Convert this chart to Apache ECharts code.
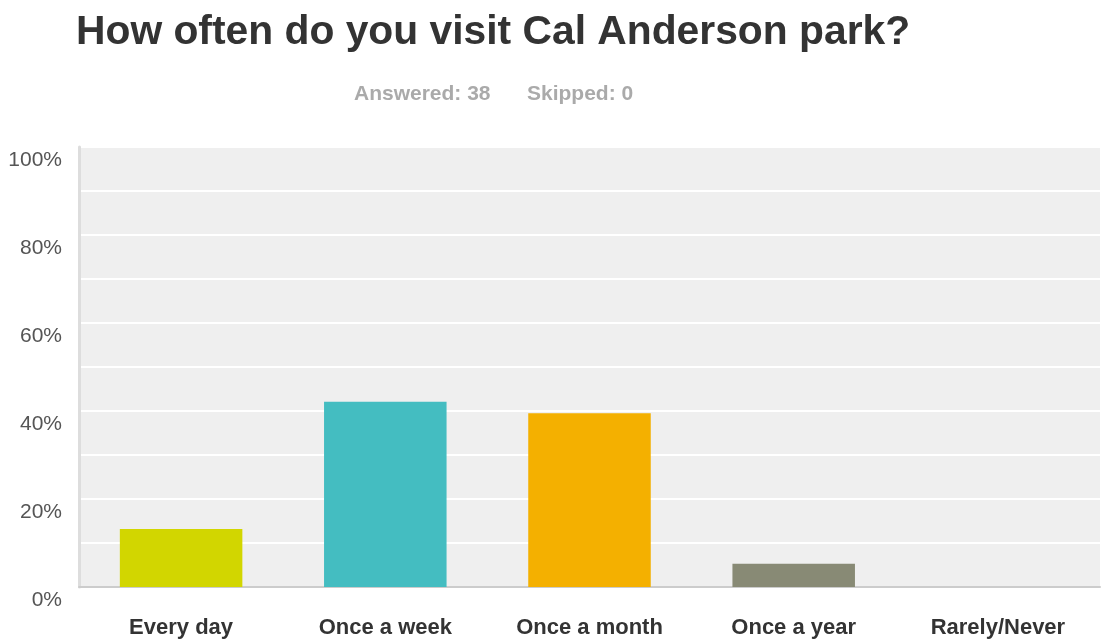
<!DOCTYPE html>
<html>
<head>
<meta charset="utf-8">
<style>
  html, body { margin: 0; padding: 0; background: #fff; }
  #chart { width: 1105px; height: 640px; }
</style>
<script src="https://cdn.jsdelivr.net/npm/echarts@6/dist/echarts.min.js"></script>
</head>
<body>
<div id="chart"></div>
<script>
// Survey responses: share of 38 respondents per answer choice
const categories = ['Every day', 'Once a week', 'Once a month', 'Once a year', 'Rarely/Never'];
const percentValues = [13.16, 42.11, 39.47, 5.26, 0];
const barColors = ['#d2d600', '#44bdc1', '#f4b000', '#888a75', '#6e6e6e'];
const yTickLabels = ['0%', '20%', '40%', '60%', '80%', '100%'];

const FONT = 'Liberation Sans, Arial, sans-serif';
const chart = echarts.init(document.getElementById('chart'), null, { renderer: 'canvas' });

chart.setOption({
  animation: false,
  backgroundColor: '#ffffff',
  title: [
    {
      text: 'How often do you visit Cal Anderson park?',
      left: 71,
      top: 7,
      textStyle: { fontFamily: FONT, fontSize: 40.8, fontWeight: 'bold', color: '#333333' }
    },
    {
      text: 'Answered: 38',
      left: 349,
      top: 79,
      textStyle: { fontFamily: FONT, fontSize: 21, fontWeight: 'bold', color: '#aaaaaa' }
    },
    {
      text: 'Skipped: 0',
      left: 522,
      top: 79,
      textStyle: { fontFamily: FONT, fontSize: 21, fontWeight: 'bold', color: '#aaaaaa' }
    }
  ],
  grid: {
    left: 79,
    right: 5,
    top: 147,
    bottom: 53,
    show: true,
    backgroundColor: '#efefef',
    borderWidth: 0
  },
  xAxis: {
    type: 'category',
    data: categories,
    axisTick: { show: false },
    axisLine: { show: true, lineStyle: { color: '#cccccc', width: 2 } },
    axisLabel: {
      margin: 30,
      fontFamily: FONT,
      fontSize: 22,
      fontWeight: 'bold',
      color: '#333333',
      interval: 0
    }
  },
  yAxis: {
    type: 'value',
    min: 0,
    max: 100,
    interval: 10,
    axisTick: { show: false },
    axisLine: { show: true, lineStyle: { color: '#dddddd', width: 3 } },
    splitLine: { show: true, lineStyle: { color: '#ffffff', width: 2 } },
    axisLabel: {
      margin: 17,
      verticalAlign: 'top',
      padding: [3, 0, 0, 0],
      fontFamily: FONT,
      fontSize: 21,
      color: '#555555',
      formatter: function (v) {
        return v % 20 === 0 ? yTickLabels[v / 20] : '';
      }
    }
  },
  series: [{
    type: 'bar',
    barWidth: '60%',
    data: percentValues.map(function (v, i) {
      return { value: v, itemStyle: { color: barColors[i] } };
    })
  }]
});
</script>
</body>
</html>
